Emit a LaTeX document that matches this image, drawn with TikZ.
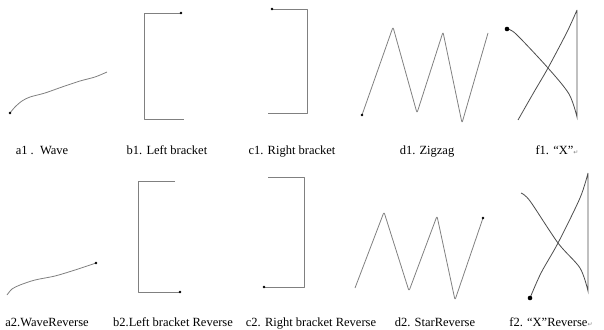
\documentclass[tikz,border=0pt]{standalone}
\usepackage{fontspec}
\setmainfont{Liberation Serif}
\newfontfamily\symfont{DejaVu Sans}
\newcommand{\retmark}{{\symfont\fontsize{6}{6}\selectfont\color{gray}↵}}

\begin{document}
\begin{tikzpicture}[x=1pt,y=-1pt,
    stroke/.style={draw=gray,line width=0.8pt,line join=round},
    xstroke/.style={draw=black!70,line width=0.8pt},
    caption/.style={anchor=base,inner sep=0pt,font=\fontsize{12.5}{14}\selectfont}]
   \useasboundingbox (0,0) rectangle (604,329);

   % top row
   \draw[stroke] plot[smooth] coordinates {(10,113) (15,107) (22,101) (30,97) (45,93) (62,87) (80,81) (95,77) (107,72)};
   \fill (10,113) circle (1.4);
   \draw[stroke] (181,13) -- (144,13) -- (144,119) -- (184,119);
   \fill (181,13) circle (1.4);
   \draw[stroke] (272,9) -- (307,9) -- (307,113) -- (268,113);
   \fill (272,9) circle (1.4);
   \draw[stroke,rounded corners=2pt] (362,115) -- (393,27) -- (417,113) -- (443,32) -- (462,123) -- (488,33);
   \fill (362,115) circle (1.4);
   \draw[xstroke] plot[smooth] coordinates {(507,29) (516,34) (548,68) (569,94) (577,117)}
      -- (577,10) plot[smooth] coordinates {(577,10) (567,32) (548,68) (534,92) (518,120)};
   \fill (507,29) circle (2.3);

   % bottom row
   \draw[stroke] plot[smooth] coordinates {(7,295) (12,289) (20,285) (35,280) (55,276) (75,270) (96,263)};
   \fill (96,263) circle (1.4);
   \draw[stroke] (175,181) -- (138,181) -- (138,292) -- (180,292);
   \fill (180,292) circle (1.4);
   \draw[stroke] (268,177) -- (304,177) -- (304,287) -- (264,287);
   \fill (264,287) circle (1.4);
   \draw[stroke,rounded corners=2pt] (355,288) -- (384,212) -- (409,291) -- (437,216) -- (455,300) -- (483,218);
   \fill (483,218) circle (1.4);
   \draw[xstroke] plot[smooth] coordinates {(521,193) (530,201) (558,243) (580,268) (588,291)}
      -- (588,173) plot[smooth] coordinates {(588,173) (580,198) (558,243) (541,273) (530,298)};
   \fill (530,298) circle (2.3);

   % captions
   \node[caption] (wave)     at (42,154)  {a1 .\ \ Wave};
   \node[caption] (lbrack)   at (167,154) {b1. Left bracket};
   \node[caption] (rbrack)   at (292,154) {c1. Right bracket};
   \node[caption] (zigzag)   at (427,154) {d1. Zigzag};
   \node[caption] (cross)    at (557,154) {f1. “X”\retmark};
   \node[caption] (waverev)  at (47,326)  {a2.WaveReverse};
   \node[caption] (lbrackrev) at (173,326) {b2.Left bracket Reverse};
   \node[caption] (rbrackrev) at (311,326) {c2. Right bracket Reverse};
   \node[caption] (starrev)  at (435,326) {d2. StarReverse};
   \node[caption] (crossrev) at (551,326) {f2. “X”Reverse\retmark};
\end{tikzpicture}
\end{document}
